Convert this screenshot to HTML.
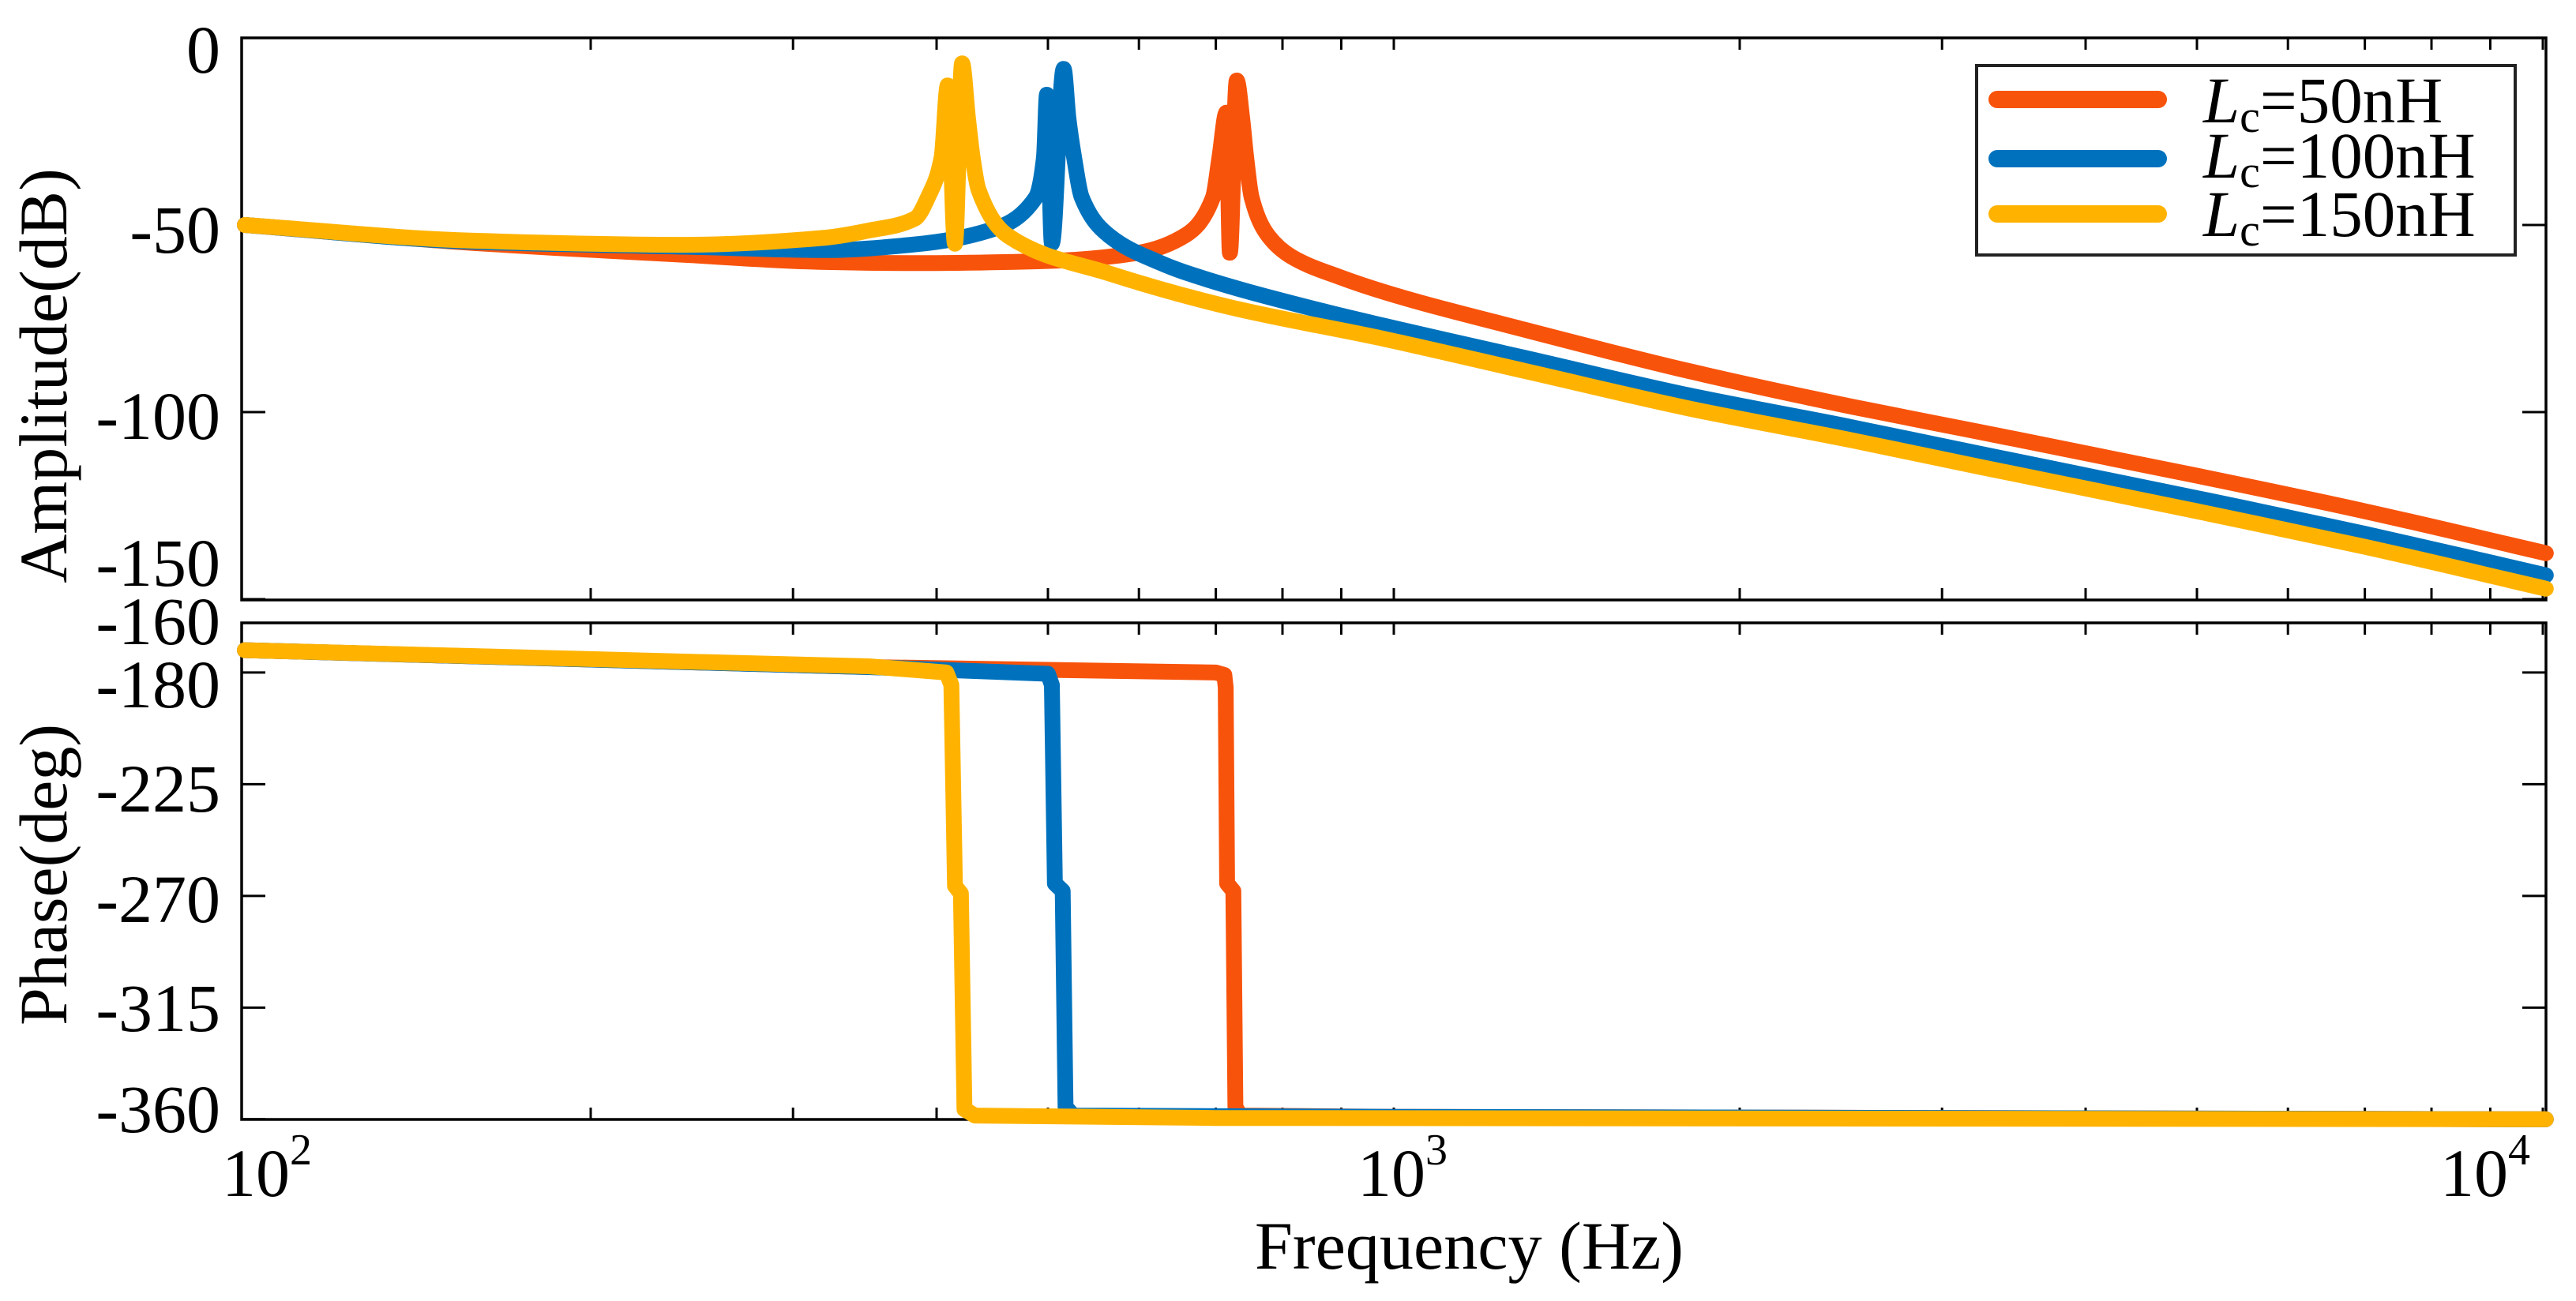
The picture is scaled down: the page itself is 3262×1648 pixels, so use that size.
<!DOCTYPE html>
<html><head><meta charset="utf-8"><title>Bode plot</title>
<style>
html,body{margin:0;padding:0;background:#fff;}
svg{display:block;font-family:"Liberation Serif","Times New Roman",serif;}
</style></head>
<body>
<svg id="chart" width="3262" height="1648" viewBox="0 0 3262 1648" xmlns="http://www.w3.org/2000/svg">
<rect x="0" y="0" width="3262" height="1648" fill="#fff"/>
<g id="axesLayer"></g>
<g id="seriesLayer"></g>
<g id="legend">
  <rect x="2503" y="83" width="682" height="240" fill="#fff" stroke="#222" stroke-width="4"/>
  <g>
    <line x1="2529" y1="126" x2="2733" y2="126" stroke="#F8530B" stroke-width="22" stroke-linecap="round"/>
    <text x="2790" y="155" font-size="83"><tspan font-style="italic">L</tspan><tspan font-size="58" dy="12">c</tspan><tspan dy="-12">=50nH</tspan></text>
  </g>
  <g>
    <line x1="2529" y1="201" x2="2733" y2="201" stroke="#0072BD" stroke-width="22" stroke-linecap="round"/>
    <text x="2790" y="225" font-size="83"><tspan font-style="italic">L</tspan><tspan font-size="58" dy="12">c</tspan><tspan dy="-12">=100nH</tspan></text>
  </g>
  <g>
    <line x1="2529" y1="271" x2="2733" y2="271" stroke="#FFB300" stroke-width="22" stroke-linecap="round"/>
    <text x="2790" y="299" font-size="83"><tspan font-style="italic">L</tspan><tspan font-size="58" dy="12">c</tspan><tspan dy="-12">=150nH</tspan></text>
  </g>
</g>
</svg>
<script>
// ---- data ----
const seriesNames = ["Lc=50nH", "Lc=100nH", "Lc=150nH"];
const seriesColors = ["#F8530B", "#0072BD", "#FFB300"];

const orangeAmpF = [100,158,242,320,383,502,600,659,696,705,715,720,730,738,744,752,778,815,899,983,1300,1805,2500,3197,5000,7000,10060];
const orangeAmp  = [-50,-54.8,-58,-59.9,-60.2,-59.6,-57.4,-52.7,-42.6,-32,-20,-57.4,-11.4,-21.5,-32,-42.6,-53,-58.5,-64,-68,-78,-89,-98.5,-105,-117,-126.5,-137.7];
const blueAmpF = [100,158,242,320,383,444,488,496,499,504,516,521,527,535,566,625,656,867,983,1300,1805,2500,3197,5000,7000,10060];
const blueAmp  = [-50,-54.5,-55.8,-56.7,-55.2,-51.5,-42.6,-32,-15.2,-54.9,-8.3,-21.5,-32,-42.6,-53,-60,-62.5,-73,-77,-85.5,-95.5,-104,-110.8,-123,-132.5,-143.6];
const yellowAmpF = [100,158,242,320,349,383,394,404,409,415,421,426,430,435,462,566,721,983,1300,1805,2500,3197,5000,7000,10060];
const yellowAmp  = [-50,-54.2,-55.3,-53.4,-51.5,-48.3,-42,-32,-12.7,-55,-6.8,-21.5,-32,-40.5,-53,-63,-72,-80.5,-89,-99,-107.5,-114.3,-126.5,-136,-147.2];

const orangePhF = [100,349,700,712,714,716,725,728,735,1000,10060];
const orangePh  = [-171,-177.8,-180,-181,-186,-265,-268,-355,-358.5,-359,-360];
const bluePhF = [100,349,500,504,507,515,518,526,1000,10060];
const bluePh  = [-171,-177.8,-180.5,-185,-265,-268,-355,-358.5,-359,-360];
const yellowPhF = [100,349,408,412,415,420,423,432,700,10060];
const yellowPh  = [-171,-177.5,-180,-185,-266,-269,-356,-358.5,-359.5,-360];

const ampTicks = [0,-50,-100,-150];
const ampTickLabels = ["0","-50","-100","-150"];
const phTicks = [-160,-180,-225,-270,-315,-360];
const phTickLabels = ["-160","-180","-225","-270","-315","-360"];
const minorFreqs = [200,300,400,500,600,700,800,900,1000,2000,3000,4000,5000,6000,7000,8000,9000,10000];
const decadeExps = ["2","3","4"];

// ---- scales ----
const AX = {l:306, r:3224};
const TOP = {t:48, b:760};
const BOT = {t:789, b:1418};
function xs(f){ return 310 + 1455*Math.log10(f/100); }
function yAmp(d){ return 48 - 4.74*d; }
function yPh(p){ return 789 + (-160 - p)*3.144; }

const NS = "http://www.w3.org/2000/svg";
function mk(tag, attrs, parent){
  const e = document.createElementNS(NS, tag);
  for (const k in attrs) e.setAttribute(k, attrs[k]);
  parent.appendChild(e);
  return e;
}
const axesLayer = document.getElementById('axesLayer');
const seriesLayer = document.getElementById('seriesLayer');

function drawFrame(box, name){
  const r = mk('rect', {x:AX.l, y:box.t, width:AX.r-AX.l, height:box.b-box.t, fill:'none', stroke:'#000', 'stroke-width':3.5}, axesLayer);
  
  
  minorFreqs.forEach(f => {
    const x = xs(f);
    [[box.t, box.t+15],[box.b, box.b-15]].forEach(p => {
      const t = mk('line', {x1:x, x2:x, y1:p[0], y2:p[1], stroke:'#000', 'stroke-width':3}, axesLayer);
      
      
    });
  });
}
drawFrame(TOP, 'amplitude-axes-frame');
drawFrame(BOT, 'phase-axes-frame');

function yTicks(vals, labels, fy, labelYs, name){
  vals.forEach((v,i) => {
    const y = fy(v);
    const a = mk('line', {x1:AX.l, x2:AX.l+30, y1:y, y2:y, stroke:'#000', 'stroke-width':3}, axesLayer);
    
    
    const b = mk('line', {x1:AX.r, x2:AX.r-30, y1:y, y2:y, stroke:'#000', 'stroke-width':3}, axesLayer);
    
    
    const t = mk('text', {x:279, y:labelYs[i], 'font-size':86, 'text-anchor':'end'}, axesLayer);
    t.textContent = labels[i];
    
    
  });
}
yTicks(ampTicks, ampTickLabels, yAmp, [92,320,556,742], 'amplitude-y');
yTicks(phTicks, phTickLabels, yPh, [816,896,1028,1168,1306,1434], 'phase-y');

const decX = [281, 1719, 3090];
decadeExps.forEach((e,i) => {
  const t = mk('text', {x:decX[i], y:1515, 'font-size':86}, axesLayer);
  
  
  const a = mk('tspan', {}, t); a.textContent = '10';
  const b = mk('tspan', {'font-size':56, dy:-40}, t); b.textContent = e;
});

const yt1 = mk('text', {x:0, y:0, 'font-size':86, 'text-anchor':'middle', transform:'translate(84,476) rotate(-90)'}, axesLayer);
yt1.textContent = 'Amplitude(dB)';


const yt2 = mk('text', {x:0, y:0, 'font-size':86, 'text-anchor':'middle', transform:'translate(84,1108) rotate(-90)'}, axesLayer);
yt2.textContent = 'Phase(deg)';


const xt = mk('text', {x:1589, y:1607, 'font-size':86, textLength:543, lengthAdjust:'spacingAndGlyphs'}, axesLayer);
xt.textContent = 'Frequency (Hz)';



function smoothPath(P){
  const n = P.length;
  if (n < 3) return 'M' + P.map(p => p[0].toFixed(1)+','+p[1].toFixed(1)).join('L');
  const dx = [], s = [], m = [];
  for (let i=0;i<n-1;i++){ dx[i] = P[i+1][0]-P[i][0]; s[i] = dx[i] ? (P[i+1][1]-P[i][1])/dx[i] : 0; }
  m[0] = s[0]; m[n-1] = s[n-2];
  for (let i=1;i<n-1;i++){
    if (s[i-1]*s[i] <= 0) m[i] = 0;
    else { const w1 = 2*dx[i]+dx[i-1], w2 = dx[i]+2*dx[i-1]; m[i] = (w1+w2)/(w1/s[i-1]+w2/s[i]); }
  }
  let d = 'M' + P[0][0].toFixed(1) + ',' + P[0][1].toFixed(1);
  for (let i=0;i<n-1;i++){
    const h = dx[i]/3;
    d += 'C' + (P[i][0]+h).toFixed(1) + ',' + (P[i][1]+m[i]*h).toFixed(1) + ' ' +
         (P[i+1][0]-h).toFixed(1) + ',' + (P[i+1][1]-m[i+1]*h).toFixed(1) + ' ' +
         P[i+1][0].toFixed(1) + ',' + P[i+1][1].toFixed(1);
  }
  return d;
}
function path(F, V, fy, color, name, smooth){
  const pts = F.map((f,i) => [xs(f), fy(V[i])]);
  const d = smooth ? smoothPath(pts) : 'M' + pts.map(p => p[0].toFixed(1)+','+p[1].toFixed(1)).join('L');
  const p = mk('path', {d:d, fill:'none', stroke:color, 'stroke-width':20, 'stroke-linecap':'round', 'stroke-linejoin':'round'}, seriesLayer);
  
  
}
path(orangeAmpF, orangeAmp, yAmp, seriesColors[0], 'amplitude-line-50nh', true);
path(blueAmpF, blueAmp, yAmp, seriesColors[1], 'amplitude-line-100nh', true);
path(yellowAmpF, yellowAmp, yAmp, seriesColors[2], 'amplitude-line-150nh', true);
path(orangePhF, orangePh, yPh, seriesColors[0], 'phase-line-50nh', false);
path(bluePhF, bluePh, yPh, seriesColors[1], 'phase-line-100nh', false);
path(yellowPhF, yellowPh, yPh, seriesColors[2], 'phase-line-150nh', false);
</script>
</body></html>
